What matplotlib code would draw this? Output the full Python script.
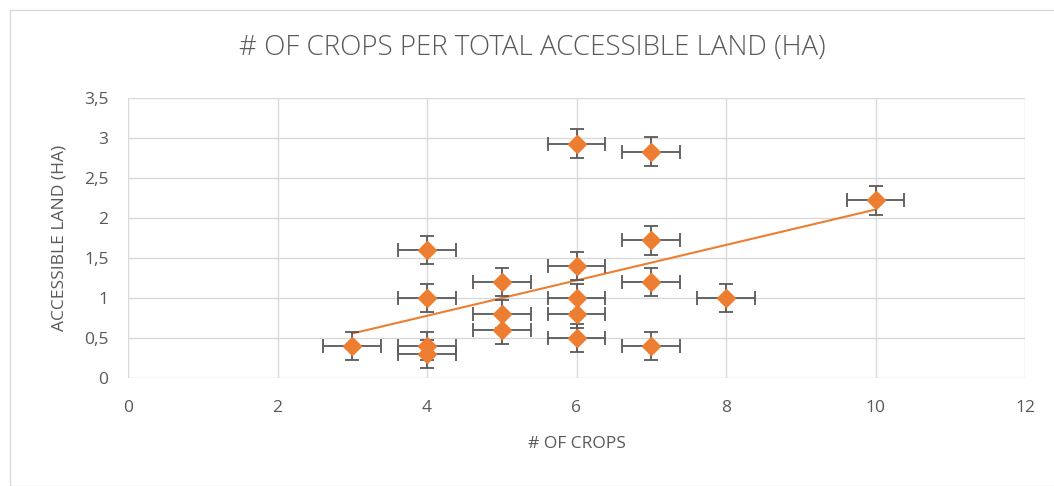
import matplotlib.pyplot as plt
import numpy as np
from matplotlib.patches import Rectangle
from matplotlib.ticker import FuncFormatter

# number of crops vs accessible land per farm
crops = [3, 4, 4, 4, 4, 5, 5, 5, 6, 6, 6, 6, 6, 7, 7, 7, 7, 8, 10]
land = [0.4, 0.4, 0.3, 1.0, 1.6, 0.6, 0.8, 1.2, 0.5, 0.8, 1.0, 1.4, 2.93,
        0.4, 1.2, 1.72, 2.83, 1.0, 2.22]

x = np.array(crops, dtype=float)
y = np.array(land)
# standard error bars, same size on every point
xerr = x.std(ddof=1) / np.sqrt(len(x))
yerr = y.std(ddof=1) / np.sqrt(len(y))

plt.rcParams['font.family'] = ['Open Sans', 'DejaVu Sans']
grey = '#595959'
orange = '#ED7D31'

fig = plt.figure(figsize=(10.54, 4.86), dpi=100)
fig.patches.append(Rectangle((10 / 1054, 0.0), 1.1, 1 - 10 / 486, transform=fig.transFigure,
                             fill=False, edgecolor='#d9d9d9', linewidth=1))
ax = fig.add_axes([128 / 1054, 1 - 378 / 486, (1025 - 128) / 1054, (378 - 98) / 486])

# linear trendline over the data range
m, b = np.polyfit(x, y, 1)
tx = np.array([x.min(), x.max()])
ax.plot(tx, m * tx + b, color=orange, linewidth=1.5, zorder=2)

ax.errorbar(x, y, xerr=xerr, yerr=yerr, fmt='D', color=orange, markersize=9,
            ecolor=grey, elinewidth=1.3, capsize=5, capthick=1.3, zorder=3)

ax.set_xlim(0, 12)
ax.set_ylim(0, 3.5)
ax.set_xticks(range(0, 13, 2))
ax.set_yticks(np.arange(0, 3.51, 0.5))
ax.yaxis.set_major_formatter(FuncFormatter(lambda v, p: ('%g' % v).replace('.', ',')))
ax.grid(True, color='#d9d9d9', linewidth=1)
ax.set_axisbelow(True)
for s in ax.spines.values():
    s.set_visible(False)
ax.tick_params(length=0, labelsize=12.5, labelcolor=grey)
ax.tick_params(axis='x', pad=16)
ax.tick_params(axis='y', pad=14)

ax.set_xlabel('# OF CROPS', fontsize=12.5, color=grey, labelpad=14)
ax.set_ylabel('ACCESSIBLE LAND (HA)', fontsize=12.5, color=grey, labelpad=12)
fig.text(532 / 1054, 1 - 48 / 486, '# OF CROPS PER TOTAL ACCESSIBLE LAND (HA)',
         ha='center', va='center', fontsize=20, color=grey, fontweight='light')

fig.savefig('out.png')
